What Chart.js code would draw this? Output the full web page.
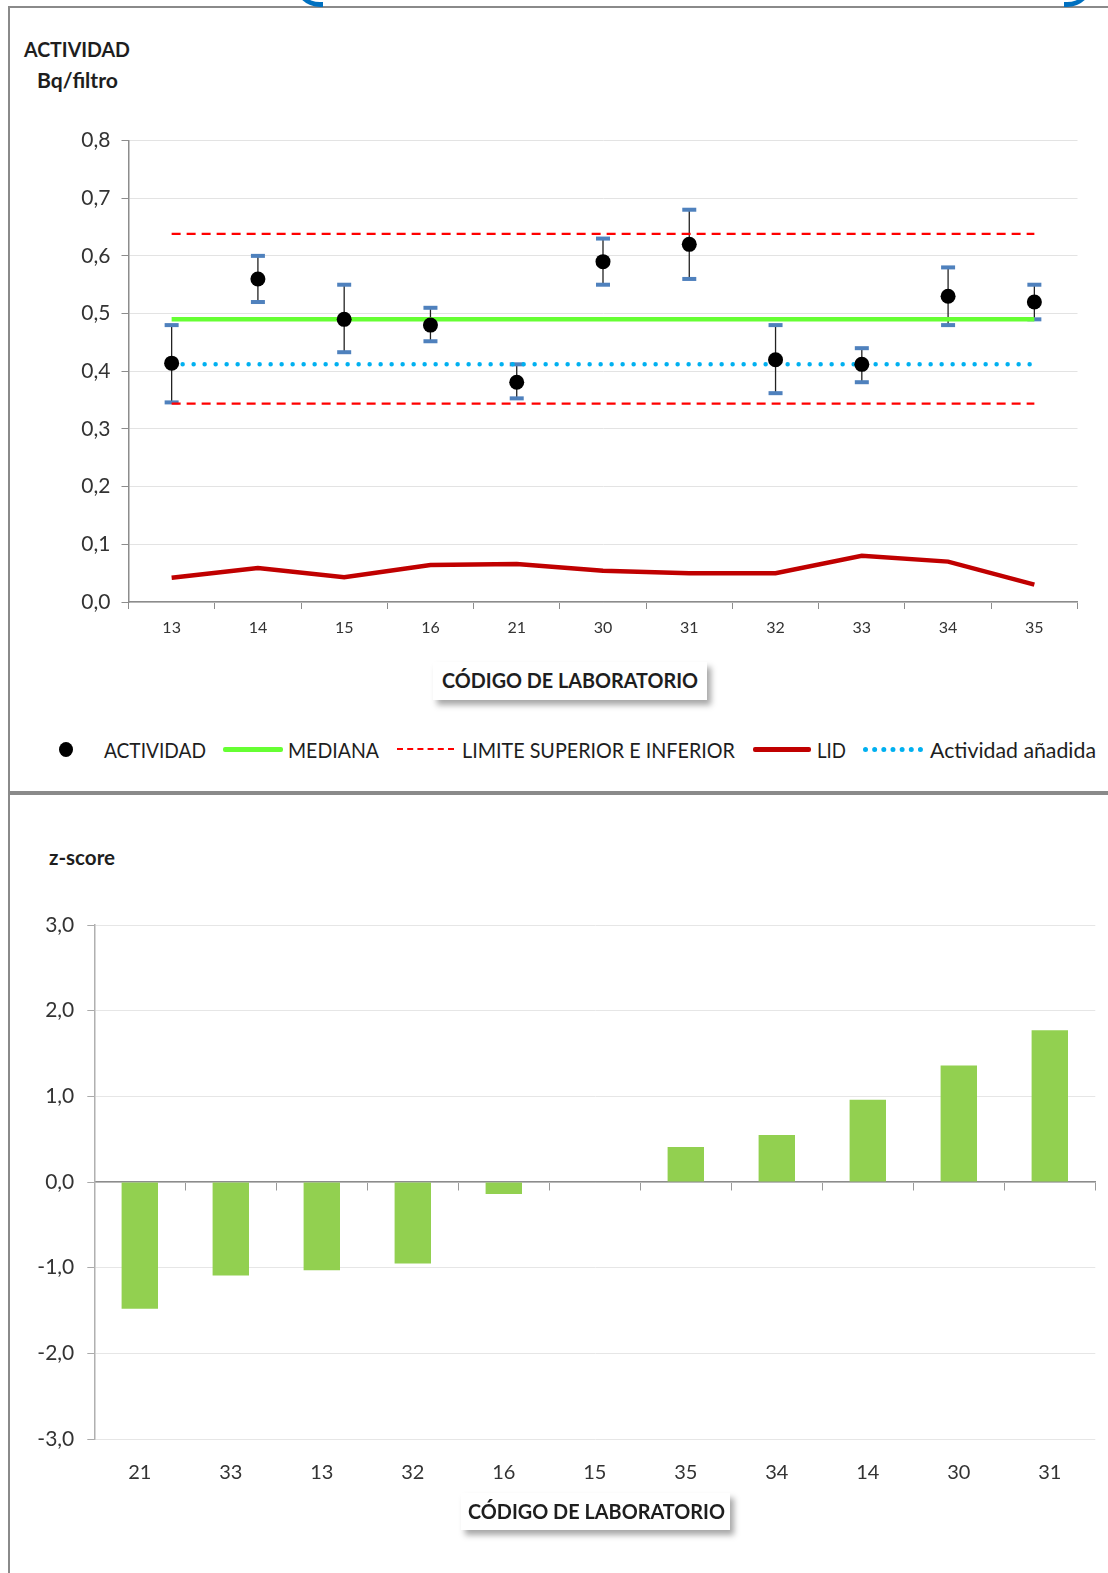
<!DOCTYPE html>
<html>
<head>
<meta charset="utf-8">
<script src="https://cdn.jsdelivr.net/npm/chart.js@4.4.1/dist/chart.umd.min.js"></script>
<style>
  body { margin: 0; width: 1108px; height: 1573px; position: relative; overflow: hidden; background: #fff; font-family: Lato, "Open Sans", sans-serif; }
  .line { position: absolute; background: #8a8a8a; }
  .txt { position: absolute; white-space: nowrap; transform-origin: left center; color: #1e1e1e; line-height: 1; }
  .bold { font-weight: bold; }
  .box { position: absolute; background: #fff; box-shadow: 4px 5px 6px rgba(0,0,0,0.35); }
  canvas { position: absolute; left: 0; }
  .key { position: absolute; }
</style>
</head>
<body>

<!-- frame -->
<div class="line" style="left:8px;top:6px;width:1100px;height:2px"></div>
<div class="line" style="left:8px;top:6px;width:2px;height:1567px"></div>
<div class="line" style="left:8px;top:791px;width:1100px;height:4px"></div>
<div style="position:absolute;left:294px;top:-20px;width:26px;height:22px;border-bottom:5px solid #0070C0;border-left:3px solid #0070C0;border-radius:0 0 0 26px"></div>
<div style="position:absolute;left:1064px;top:-20px;width:26px;height:22px;border-bottom:5px solid #0070C0;border-right:3px solid #0070C0;border-radius:0 0 26px 0"></div>

<!-- top chart -->
<div class="txt bold" data-x="24" data-y="49" data-w="106" style="font-size:20px">ACTIVIDAD</div>
<div class="txt bold" data-x="37" data-y="79.5" data-w="81" style="font-size:20px">Bq/filtro</div>
<canvas id="actChart" style="top:0px;width:1085px;height:645px"></canvas>
<div class="box" style="left:433px;top:662px;width:274px;height:38px"></div>
<div class="txt bold" data-x="442" data-y="680" data-w="256" style="font-size:20px">CÓDIGO DE LABORATORIO</div>

<!-- legend -->
<div class="key" style="left:59px;top:742px;width:14px;height:15px;border-radius:50%;background:#000"></div>
<div class="txt" data-x="103.5" data-y="749" data-w="102" style="font-size:21px">ACTIVIDAD</div>
<div class="key" style="left:223px;top:747px;width:60px;height:5px;border-radius:2px;background:#66FF33"></div>
<div class="txt" data-x="288" data-y="749" data-w="91" style="font-size:21px">MEDIANA</div>
<div class="key" style="left:397px;top:748px;width:57px;height:0;border-top:2.5px dashed #FF0000"></div>
<div class="txt" data-x="462" data-y="749" data-w="273" style="font-size:21px">LIMITE SUPERIOR E INFERIOR</div>
<div class="key" style="left:753px;top:747px;width:58px;height:5px;border-radius:2px;background:#C00000"></div>
<div class="txt" data-x="817" data-y="749" data-w="29" style="font-size:21px">LID</div>
<div class="key" style="left:863px;top:747px;width:60px;height:0;border-top:5px dotted #00B0F0"></div>
<div class="txt" data-x="929.5" data-y="749" data-w="166" style="font-size:21px">Actividad añadida</div>

<!-- bottom chart -->
<div class="txt bold" data-x="49" data-y="857" data-w="66" style="font-size:20px">z-score</div>
<canvas id="zChart" style="top:800px;width:1108px;height:699px"></canvas>
<div class="box" style="left:461px;top:1493px;width:269px;height:37px"></div>
<div class="txt bold" data-x="468" data-y="1511" data-w="257" style="font-size:20px">CÓDIGO DE LABORATORIO</div>

<script>
// ---- top chart data ----
var labCodes = ['13', '14', '15', '16', '21', '30', '31', '32', '33', '34', '35'];
var actividad = [0.414, 0.56, 0.49, 0.48, 0.381, 0.59, 0.62, 0.42, 0.412, 0.53, 0.52];
var actHigh = [0.48, 0.60, 0.55, 0.51, 0.412, 0.63, 0.68, 0.48, 0.44, 0.58, 0.55];
var actLow = [0.346, 0.52, 0.433, 0.452, 0.353, 0.55, 0.56, 0.362, 0.381, 0.48, 0.49];
var mediana = [0.49, 0.49, 0.49, 0.49, 0.49, 0.49, 0.49, 0.49, 0.49, 0.49, 0.49];
var limSup = [0.638, 0.638, 0.638, 0.638, 0.638, 0.638, 0.638, 0.638, 0.638, 0.638, 0.638];
var limInf = [0.344, 0.344, 0.344, 0.344, 0.344, 0.344, 0.344, 0.344, 0.344, 0.344, 0.344];
var lid = [0.042, 0.059, 0.043, 0.064, 0.066, 0.054, 0.050, 0.050, 0.080, 0.070, 0.030];
var anadida = [0.412, 0.412, 0.412, 0.412, 0.412, 0.412, 0.412, 0.412, 0.412, 0.412, 0.412];
var actTicks = { min: 0, max: 0.8, step: 0.1 };

// ---- bottom chart data ----
var zCodes = ['21', '33', '13', '32', '16', '15', '35', '34', '14', '30', '31'];
var zScores = [-1.48, -1.09, -1.03, -0.95, -0.14, 0, 0.41, 0.55, 0.96, 1.36, 1.77];
var zTicks = { min: -3, max: 3, step: 1 };

var tickFont = 'Lato, "Open Sans", sans-serif';
function comma(v) { return v.toFixed(1).replace('.', ','); }

// fit HTML texts to their measured widths
document.querySelectorAll('.txt').forEach(function (el) {
  el.style.left = el.dataset.x + 'px';
  el.style.top = el.dataset.y + 'px';
  var w = el.getBoundingClientRect().width;
  el.style.transform = 'translateY(-50%) scaleX(' + (parseFloat(el.dataset.w) / w) + ')';
});

var errorBars = {
  id: 'errorBars',
  beforeDatasetsDraw: function (chart) {
    var ctx = chart.ctx, x = chart.scales.x, y = chart.scales.y;
    ctx.save();
    for (var i = 0; i < labCodes.length; i++) {
      var px = x.getPixelForValue(i);
      var top = y.getPixelForValue(actHigh[i]);
      var bot = y.getPixelForValue(actLow[i]);
      ctx.strokeStyle = '#222';
      ctx.lineWidth = 1.3;
      ctx.beginPath();
      ctx.moveTo(px, top);
      ctx.lineTo(px, bot);
      ctx.stroke();
      ctx.fillStyle = '#4F81BD';
      ctx.fillRect(px - 7, top - 2, 14, 4);
      ctx.fillRect(px - 7, bot - 2, 14, 4);
    }
    ctx.restore();
  }
};

new Chart(document.getElementById('actChart'), {
  type: 'line',
  data: {
    labels: labCodes,
    datasets: [
      { label: 'ACTIVIDAD', data: actividad, showLine: false, pointRadius: 7.5, pointBackgroundColor: '#000', pointBorderWidth: 0 },
      { label: 'MEDIANA', data: mediana, borderColor: '#66FF33', borderWidth: 4.5, pointRadius: 0 },
      { label: 'LIMITE SUPERIOR E INFERIOR', data: limSup, borderColor: '#FF0000', borderWidth: 2.2, borderDash: [9, 6], pointRadius: 0 },
      { label: 'LIMITE INFERIOR', data: limInf, borderColor: '#FF0000', borderWidth: 2.2, borderDash: [9, 6], pointRadius: 0 },
      { label: 'LID', data: lid, borderColor: '#C00000', borderWidth: 4.5, pointRadius: 0, tension: 0 },
      { label: 'Actividad añadida', data: anadida, borderColor: '#00B0F0', borderWidth: 4.5, borderDash: [0, 11], borderCapStyle: 'round', pointRadius: 0 }
    ]
  },
  options: {
    responsive: false,
    animation: false,
    layout: { padding: { top: 140.5, right: 6, bottom: 0, left: 0 } },
    plugins: { legend: { display: false }, tooltip: { enabled: false } },
    scales: {
      x: {
        offset: true,
        grid: { offset: true, drawOnChartArea: false, tickLength: 7, color: '#8c8c8c' },
        border: { color: '#8c8c8c', width: 1.5 },
        ticks: { color: '#333', padding: 9, font: { family: tickFont, size: 16 } },
        afterFit: function (s) { s.height = 43; }
      },
      y: {
        min: actTicks.min, max: actTicks.max,
        grid: { color: '#e3e3e3', tickColor: '#8c8c8c', tickLength: 7 },
        border: { color: '#8c8c8c', width: 1.5 },
        ticks: { stepSize: actTicks.step, color: '#333', padding: 11, font: { family: tickFont, size: 21 }, callback: function (v) { return comma(v); } },
        afterFit: function (s) { s.width = 128.5; }
      }
    }
  },
  plugins: [errorBars]
});

new Chart(document.getElementById('zChart'), {
  type: 'bar',
  data: {
    labels: zCodes,
    datasets: [{ label: 'z-score', data: zScores, backgroundColor: '#92D050', barPercentage: 0.4, categoryPercentage: 1, xAxisID: 'x' }]
  },
  options: {
    responsive: false,
    animation: false,
    layout: { padding: { top: 125, right: 12.7, bottom: 0, left: 0 } },
    plugins: { legend: { display: false }, tooltip: { enabled: false } },
    scales: {
      x: {
        position: { y: 0 },
        offset: true,
        grid: { offset: true, drawOnChartArea: false, tickLength: 8, color: '#999' },
        border: { color: '#8c8c8c', width: 1.5 },
        ticks: { display: false }
      },
      x2: {
        type: 'category',
        position: 'bottom',
        offset: true,
        grid: { display: false, drawTicks: false },
        border: { display: false },
        ticks: { color: '#333', padding: 22, font: { family: tickFont, size: 20 } },
        afterFit: function (s) { s.height = 60; }
      },
      y: {
        min: zTicks.min, max: zTicks.max,
        grid: { color: '#e6e6e6', tickColor: '#aaa', tickLength: 7 },
        border: { color: '#b0b0b0', width: 1.5 },
        ticks: { stepSize: zTicks.step, color: '#333', padding: 13, font: { family: tickFont, size: 21 }, callback: function (v) { return comma(v); } },
        afterFit: function (s) { s.width = 94.3; }
      }
    }
  }
});
</script>
</body>
</html>
